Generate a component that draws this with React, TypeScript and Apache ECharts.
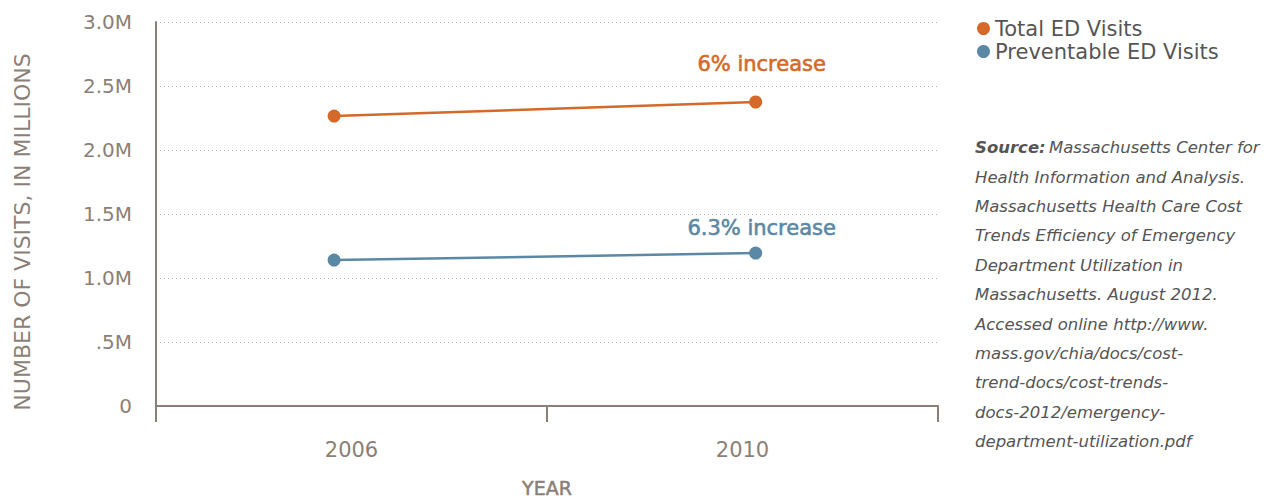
import React, { useEffect, useRef } from "react";
import * as echarts from "echarts";

const years = ["2006", "2010"];
const yearValues = [2006, 2010];
const totalVisits = [2.265, 2.375];
const preventableVisits = [1.14, 1.195];
const yTicks = ["0", ".5M", "1.0M", "1.5M", "2.0M", "2.5M", "3.0M"];
const seriesNames = ["Total ED Visits", "Preventable ED Visits"];
const annotations = ["6% increase", "6.3% increase"];
const sourceLines = [
  "Massachusetts Center for",
  "Health Information and Analysis.",
  "Massachusetts Health Care Cost",
  "Trends Efficiency of Emergency",
  "Department Utilization in",
  "Massachusetts. August 2012.",
  "Accessed online http://www.",
  "mass.gov/chia/docs/cost-",
  "trend-docs/cost-trends-",
  "docs-2012/emergency-",
  "department-utilization.pdf",
];

const ORANGE = "#d4692a";
const BLUE = "#5b88a5";
const AXIS = "#8b7f77";
const FONT = "'DejaVu Sans', 'Noto Sans', sans-serif";

export default function App() {
  const ref = useRef<HTMLDivElement>(null);
  useEffect(() => {
    if (!ref.current) return;
    const chart = echarts.init(ref.current, null, { renderer: "svg" });
    const mk = (vals: number[], idx: number) =>
      vals.map((v, i) => {
        const item: any = { value: [yearValues[i], v] };
        if (i === vals.length - 1) {
          const c = idx === 0 ? ORANGE : BLUE;
          item.label = {
            show: true,
            position: "top",
            distance: idx === 0 ? 21 : 8,
            offset: [6, 0],
            formatter: annotations[idx],
            color: c,
            fontSize: 21,
            fontWeight: "normal",
            fontFamily: FONT,
            textBorderColor: c,
            textBorderWidth: 0.6,
          };
        }
        return item;
      });
    chart.setOption({
      animation: false,
      grid: { left: 156, right: 328, top: 22, bottom: 94, containLabel: false, outerBoundsMode: "none" },
      legend: {
        orient: "vertical",
        left: 972,
        top: 13,
        itemGap: 2,
        itemWidth: 13,
        itemHeight: 13,
        icon: "circle",
        data: seriesNames,
        textStyle: { fontSize: 21, color: "#555", fontFamily: FONT, lineHeight: 21 },
      },
      xAxis: [
        {
          type: "category",
          data: years,
          boundaryGap: true,
          axisLine: { lineStyle: { color: AXIS, width: 2 } },
          axisTick: { show: true, length: 16, lineStyle: { color: AXIS, width: 2 } },
          axisLabel: { color: AXIS, fontSize: 21, fontFamily: FONT, margin: 33 },
          name: "YEAR",
          nameLocation: "middle",
          nameGap: 72,
          nameTextStyle: {
            color: AXIS,
            fontSize: 19,
            fontWeight: "normal",
            fontFamily: FONT,
            textBorderColor: AXIS,
            textBorderWidth: 0.5,
          },
        },
        {
          type: "value",
          min: 2004.31,
          max: 2011.73,
          show: false,
        },
      ],
      yAxis: {
        type: "value",
        min: 0,
        max: 3,
        interval: 0.5,
        axisLine: { show: true, lineStyle: { color: AXIS, width: 2 } },
        axisTick: { show: false },
        axisLabel: {
          color: AXIS,
          fontSize: 20,
          fontFamily: FONT,
          margin: 24,
          formatter: (v: number) => yTicks[Math.round(v * 2)],
        },
        splitLine: { show: true, lineStyle: { color: "#b8b0aa", type: [1, 3], width: 1 } },
      },
      series: [
        {
          name: seriesNames[0],
          type: "line",
          xAxisIndex: 1,
          data: mk(totalVisits, 0),
          color: ORANGE,
          lineStyle: { width: 2.5 },
          symbol: "circle",
          symbolSize: 13,
        },
        {
          name: seriesNames[1],
          type: "line",
          xAxisIndex: 1,
          data: mk(preventableVisits, 1),
          color: BLUE,
          lineStyle: { width: 2.5 },
          symbol: "circle",
          symbolSize: 13,
        },
      ],
      graphic: [
        {
          type: "text",
          x: 22,
          y: 232,
          rotation: Math.PI / 2,
          style: {
            text: "NUMBER OF VISITS, IN MILLIONS",
            fill: AXIS,
            fontSize: 22,
            fontFamily: FONT,
            align: "center",
            verticalAlign: "middle",
          },
        },
        {
          type: "text",
          left: 975,
          top: 133,
          style: {
            text: sourceLines
              .map((l, i) => (i === 0 ? "{b|Source:} {i|" + l + "}" : "{i|" + l + "}"))
              .join("\n"),
            lineHeight: 29.4,
            rich: {
              b: { fontStyle: "italic", fontWeight: 700, fontSize: 16.5, fill: "#555", fontFamily: FONT, lineHeight: 29.4 },
              i: { fontStyle: "italic", fontSize: 16.5, fill: "#555", fontFamily: FONT, lineHeight: 29.4 },
            },
          },
        },
      ],
    });
    return () => chart.dispose();
  }, []);
  return (
    <div
      ref={ref}
      style={{ position: "fixed", left: 0, top: 0, width: 1266, height: 500, background: "#fff" }}
    />
  );
}
